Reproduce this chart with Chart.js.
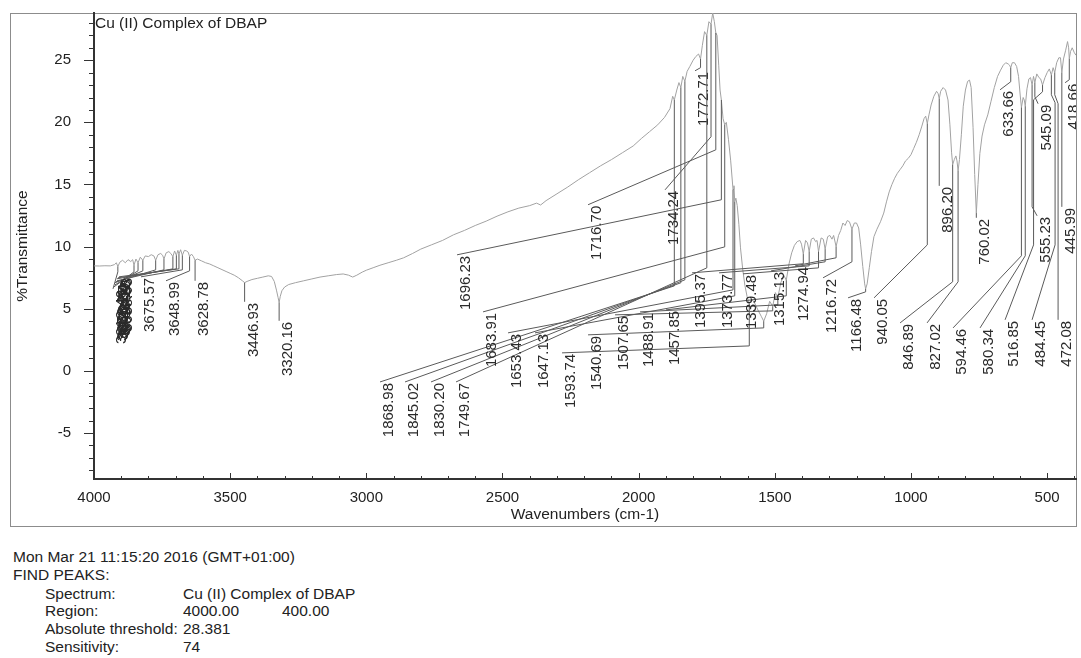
<!DOCTYPE html>
<html>
<head>
<meta charset="utf-8">
<title>Cu (II) Complex of DBAP</title>
<script src="https://cdn.jsdelivr.net/npm/chart.js@4.4.1/dist/chart.umd.min.js"></script>
<style>
  html, body { margin: 0; padding: 0; background: #fff; }
  #wrap { position: relative; width: 1081px; height: 658px; overflow: hidden;
          font-family: "Liberation Sans", Arial, sans-serif; color: #222; }
  #c { position: absolute; left: 0; top: 0; }
  .t { position: absolute; font-size: 15.5px; line-height: 18px; white-space: pre; }
</style>
</head>
<body>
<div id="wrap">
  <canvas id="c" width="1081" height="535"></canvas>
  <div class="t" style="left:13px;top:548px">Mon Mar 21 11:15:20 2016 (GMT+01:00)</div>
  <div class="t" style="left:13px;top:566px">FIND PEAKS:</div>
  <div class="t" style="left:45px;top:585px">Spectrum:</div>
  <div class="t" style="left:183px;top:585px">Cu (II) Complex of DBAP</div>
  <div class="t" style="left:45px;top:602px">Region:</div>
  <div class="t" style="left:183px;top:602px">4000.00</div>
  <div class="t" style="left:282px;top:602px">400.00</div>
  <div class="t" style="left:45px;top:620px">Absolute threshold:</div>
  <div class="t" style="left:183px;top:620px">28.381</div>
  <div class="t" style="left:45px;top:638px">Sensitivity:</div>
  <div class="t" style="left:183px;top:638px">74</div>
</div>
<script>
// ---- Spectrum: wavenumber (cm-1) and %Transmittance ----
const wavenumbers = [
  4000, 3980, 3960, 3940, 3925, 3918, 3912.40, 3905, 3895, 3885, 3875, 3865, 3858, 3853.11,
  3846, 3838.27, 3830, 3820.64, 3812, 3800, 3790, 3780, 3773.50, 3765, 3755, 3748, 3743.12,
  3735, 3725, 3718, 3710.29, 3704, 3697.55, 3692, 3688.03, 3682, 3675.57, 3668, 3660, 3654,
  3648.99, 3642, 3635, 3628.78, 3620, 3605, 3590, 3575, 3560, 3545, 3530, 3515, 3500, 3485,
  3470, 3455, 3446.93, 3438, 3420, 3400, 3380, 3360, 3348, 3338, 3330, 3324, 3320.16, 3316,
  3310, 3300, 3285, 3260, 3230, 3200, 3170, 3140, 3110, 3085, 3065, 3050, 3035, 3015, 3000,
  2975, 2950, 2920, 2890, 2863, 2830, 2800, 2760, 2720, 2680, 2640, 2600, 2560, 2520, 2480,
  2440, 2400, 2375, 2360, 2340, 2300, 2260, 2220, 2180, 2140, 2100, 2060, 2020, 1990, 1960,
  1930, 1905, 1885, 1875, 1868.98, 1860, 1852, 1845.02, 1838, 1830.20, 1822, 1812, 1800,
  1790, 1780, 1772.71, 1766, 1758, 1749.67, 1742, 1734.24, 1728, 1722, 1716.70, 1712, 1706,
  1701, 1696.23, 1690, 1683.91, 1678, 1670, 1662, 1653.43, 1650, 1647.13, 1643, 1638, 1632,
  1626, 1618, 1610, 1602, 1593.74, 1586, 1575, 1562, 1550, 1540.69, 1530, 1519, 1507.65,
  1498, 1488.91, 1478, 1467, 1457.85, 1448, 1438, 1428, 1418, 1408, 1402, 1395.37, 1387,
  1380, 1373.77, 1366, 1358, 1350, 1345, 1339.48, 1330, 1322, 1315.13, 1306, 1298, 1290,
  1284, 1274.94, 1266, 1258, 1250, 1242, 1234, 1226, 1216.72, 1208, 1200, 1192, 1185, 1177,
  1170, 1166.48, 1161, 1153, 1145, 1136, 1125, 1112, 1100, 1090, 1080, 1070, 1060, 1050,
  1040, 1030, 1020, 1010, 1000, 990, 980, 970, 960, 952, 946, 940.05, 934, 926, 916, 906,
  900, 896.20, 891, 882, 873, 864, 857, 851, 846.89, 841, 835, 831, 827.02, 822, 815, 808,
  800, 792, 785, 779, 772, 766, 760.02, 754, 747, 739, 730, 718, 706, 694, 682, 671, 661,
  652, 643, 638, 633.66, 628, 620, 612, 605, 599, 594.46, 588, 584, 580.34, 574, 567, 561,
  555.23, 550, 545.09, 538, 530, 524, 516.85, 508, 500, 492, 484.45, 478, 472.08, 465, 457,
  451, 445.99, 440, 432, 425, 421, 418.66, 414, 408, 400, 394
];
const transmittance = [
  8.45, 8.44, 8.46, 8.45, 8.55, 8.7, 8.4, 8.75, 8.9, 8.7, 8.95, 8.8, 8.95, 8.5,
  9.0, 8.7, 9.15, 8.9, 9.25, 9.2, 9.35, 9.25, 8.9, 9.35, 9.45, 9.3, 9.0,
  9.5, 9.6, 9.45, 9.2, 9.65, 9.3, 9.7, 9.4, 9.75, 9.3, 9.7, 9.65, 9.55,
  9.2, 9.4, 9.2, 8.9, 9.0, 8.85, 8.7, 8.6, 8.45, 8.3, 8.15, 8.0, 7.85, 7.7,
  7.5, 7.25, 7.1, 7.2, 7.35, 7.45, 7.55, 7.65, 7.6, 7.2, 6.5, 5.9, 5.5, 6.0,
  6.45, 6.75, 6.95, 7.1, 7.25, 7.4, 7.55, 7.65, 7.75, 7.8, 7.7, 7.55, 7.7, 7.95, 8.1,
  8.3, 8.5, 8.7, 8.9, 9.1, 9.45, 9.8, 10.15, 10.5, 10.95, 11.3, 11.7, 12.05, 12.45, 12.8,
  13.1, 13.3, 13.5, 13.35, 13.7, 14.25, 14.8, 15.4, 15.95, 16.5, 17.0, 17.55, 18.1, 18.7, 19.25,
  19.8, 20.4, 21.1, 22.1, 21.8, 22.6, 23.2, 22.8, 23.7, 23.3, 24.1, 24.5, 25.0,
  25.3, 25.5, 25.1, 26.2, 27.3, 27.0, 28.1, 27.9, 28.8, 28.1, 27.2, 27.0, 24.6,
  22.6, 21.8, 20.3, 19.8, 20.0, 18.6, 16.9, 14.6, 14.9, 13.6, 13.9, 13.3, 11.8,
  9.9, 8.2, 6.9, 6.0, 5.4, 5.8, 5.5, 4.9, 4.4, 4.0, 4.6, 5.6, 5.2,
  6.3, 5.9, 7.1, 7.7, 7.3, 8.6, 9.5, 10.1, 10.4, 10.5, 10.2, 9.4, 10.5,
  10.3, 9.6, 10.6, 10.7, 10.4, 10.5, 9.6, 10.7, 10.6, 9.8, 10.8, 10.9, 10.6,
  10.9, 10.0, 10.9, 11.3, 11.9, 11.7, 12.1, 12.0, 11.4, 11.9, 11.9, 11.5, 10.2, 8.4,
  7.0, 6.6, 7.0, 8.3, 9.6, 10.8, 11.4, 12.0, 12.7, 13.6, 14.4, 15.0, 15.5, 15.9,
  16.2, 16.5, 16.9, 17.1, 17.4, 17.9, 18.4, 19.0, 19.7, 20.3, 20.5, 19.9, 20.6, 21.4, 22.1, 22.5,
  22.3, 21.9, 22.5, 22.8, 22.6, 21.8, 19.8, 17.6, 16.6, 17.0, 17.3, 16.9, 16.1, 17.0, 19.0, 21.3,
  22.6, 23.3, 23.4, 22.8, 19.6, 15.8, 12.7, 15.0, 17.5, 18.9, 19.8, 20.6, 21.7, 22.8, 23.7, 24.2, 24.6,
  24.8, 24.7, 24.6, 24.4, 24.8, 24.8, 24.5, 23.7, 22.2, 21.2, 22.0, 21.8, 21.3, 22.7, 23.5, 23.6,
  23.0, 23.7, 23.2, 23.9, 23.6, 23.5, 23.0, 23.6, 24.0, 24.3, 23.8, 24.4, 24.0, 24.8, 25.2,
  25.2, 24.0, 25.1, 25.8, 26.5, 26.0, 25.1, 25.7, 26.0, 25.6, 25.4
];

// ---- Axis ticks ----
const xTickValues = [4000, 3500, 3000, 2500, 2000, 1500, 1000, 500];
const yTickValues = [-5, 0, 5, 10, 15, 20, 25];

// ---- Peak-pick labels (values found by FIND PEAKS) ----
const peakLabels = [
  '3912.40', '3853.11', '3838.27', '3820.64', '3773.50', '3743.12', '3710.29', '3697.55', '3688.03',
  '3675.57', '3648.99', '3628.78', '3446.93', '3320.16',
  '1868.98', '1845.02', '1830.20', '1772.71', '1749.67', '1734.24', '1716.70', '1696.23', '1683.91',
  '1653.43', '1647.13', '1593.74', '1540.69', '1507.65', '1488.91', '1457.85', '1395.37', '1373.77',
  '1339.48', '1315.13', '1274.94', '1216.72', '1166.48', '940.05', '896.20', '846.89', '827.02',
  '760.02', '633.66', '594.46', '580.34', '555.23', '545.09', '516.85', '484.45', '472.08',
  '445.99', '418.66'
];

// Leader routing in axis units: bend points after the peak, then the label anchor
const leaderBends = [
  [[3912.40, 7.97]], [[3853.11, 7.97]], [[3838.27, 8.05]], [[3820.64, 8.05]], [[3773.50, 8.13]],
  [[3743.12, 8.13]], [[3710.29, 8.21]], [[3697.55, 8.21]], [[3688.03, 8.21]],
  [[3675.57, 8.13]], [[3648.99, 8.05]], [], [], [],
  [[1868.98, 6.84]], [[1845.02, 7.09]], [[1830.20, 7.33]], [[1772.71, 24.40]], [[1749.67, 8.29]],
  [[1734.24, 18.84]], [[1716.70, 17.79]], [[1696.23, 13.77]], [[1683.91, 9.98]],
  [[1653.43, 6.52]], [[1647.13, 6.04]], [[1593.74, 2.01]], [[1540.69, 3.46]], [[1507.65, 4.83]],
  [[1488.91, 5.31]], [[1457.85, 6.04]], [[1395.37, 8.62]], [[1373.77, 8.45]],
  [[1339.48, 8.29]], [[1315.13, 8.78]], [[1274.94, 9.10]], [[1216.72, 8.78]], [[1166.48, 6.36]],
  [[940.05, 10.14]], [], [[846.89, 7.17]], [[827.02, 7.17]],
  [], [[633.66, 23.27]], [[594.46, 9.26]], [[580.34, 9.26]], [[555.23, 13.20]], [[545.09, 22.06]],
  [[516.85, 22.46], [549.8, 21.82], [549.8, 10.14]],
  [[484.45, 22.22], [470.8, 21.58], [470.8, 10.14]],
  [[472.08, 22.22], [459.8, 21.50]],
  [], [[418.66, 23.43]]
];
const labelAnchors = [
  [3930.2, 6.60], [3926.6, 6.76], [3922.9, 6.92], [3922.9, 7.09], [3919.2, 7.17],
  [3915.5, 7.25], [3915.5, 7.41], [3911.9, 7.49], [3908.2, 7.57],
  [3827.4, 7.57], [3735.6, 7.25], [3628.78, 7.25], [3446.93, 5.56], [3320.16, 4.03],
  [2949.7, -0.89], [2857.9, -0.89], [2762.4, -0.89], [1792.9, 24.15], [2670.6, -0.89],
  [1903.1, 14.57], [2185.8, 13.37], [2666.9, 9.34], [2571.4, 4.75],
  [2479.6, 3.06], [2380.5, 3.06], [2281.3, 1.45], [2185.8, 2.90], [2086.7, 4.51],
  [1994.9, 4.75], [1899.4, 4.91], [1803.9, 7.89], [1704.7, 7.89],
  [1616.6, 7.81], [1513.8, 8.05], [1425.6, 8.45], [1322.8, 7.49], [1231.0, 5.88],
  [1135.5, 5.88], [896.20, 14.89], [1040.0, 3.86], [940.9, 3.86],
  [760.02, 12.32], [672.8, 22.62], [845.4, 3.46], [746.3, 3.46], [536.9, 12.48], [533.2, 21.50],
  [654.4, 4.11], [555.3, 4.11], [459.8, 4.11],
  [445.99, 13.20], [434.1, 23.19]
];

const FONT = '"Liberation Sans", Arial, sans-serif';
Chart.defaults.font.family = FONT;

const spectrum = wavenumbers.map((w, i) => ({ x: w, y: transmittance[i] }));

const decor = {
  id: 'decor',
  beforeDraw(chart) {
    const ctx = chart.ctx;
    ctx.save();
    ctx.strokeStyle = '#8c8c8c';
    ctx.lineWidth = 1;
    ctx.strokeRect(10.5, 13.5, 1066, 513);
    ctx.restore();
  },
  afterDraw(chart) {
    const ctx = chart.ctx;
    const xs = chart.scales.x, ys = chart.scales.y;
    const { left, right, top, bottom } = chart.chartArea;

    // tick marks: x inside the frame, y outside
    ctx.save();
    ctx.strokeStyle = '#333';
    ctx.lineWidth = 1;
    ctx.beginPath();
    for (let v = 400; v <= 4000; v += 100) {
      const px = Math.round(xs.getPixelForValue(v)) + 0.5;
      const len = v % 500 === 0 ? 6 : 3;
      ctx.moveTo(px, bottom); ctx.lineTo(px, bottom - len);
    }
    for (let v = -8; v <= 28; v++) {
      const py = Math.round(ys.getPixelForValue(v)) + 0.5;
      const len = v % 5 === 0 ? 10 : 5;
      ctx.moveTo(left, py); ctx.lineTo(left - len, py);
    }
    ctx.stroke();

    // spectrum name in the upper-left corner of the plot
    ctx.fillStyle = '#222';
    ctx.font = '15.5px ' + FONT;
    ctx.textAlign = 'left';
    ctx.textBaseline = 'middle';
    ctx.fillText('Cu (II) Complex of DBAP', left + 1, top + 11);
    ctx.restore();

    // peak markers with leaders and rotated labels
    ctx.save();
    ctx.beginPath();
    ctx.rect(left, top, right - left, bottom - top);
    ctx.clip();
    ctx.strokeStyle = '#5a5a5a';
    ctx.lineWidth = 1;
    ctx.fillStyle = '#2a2a2a';
    ctx.font = '15px ' + FONT;
    peakLabels.forEach((lab, i) => {
      const wn = parseFloat(lab);
      const t = transmittance[wavenumbers.indexOf(wn)];
      const pts = [[wn, t], ...leaderBends[i], labelAnchors[i]];
      ctx.beginPath();
      pts.forEach(([w, v], k) => {
        const X = xs.getPixelForValue(w), Y = ys.getPixelForValue(v);
        if (k) ctx.lineTo(X, Y); else ctx.moveTo(X, Y);
      });
      ctx.stroke();
      const [aw, at] = labelAnchors[i];
      ctx.save();
      ctx.translate(xs.getPixelForValue(aw) + 9, ys.getPixelForValue(at) + 1);
      ctx.rotate(-Math.PI / 2);
      ctx.textAlign = 'right';
      ctx.textBaseline = 'middle';
      ctx.fillText(lab, 0, 0);
      ctx.restore();
    });
    ctx.restore();
  }
};

new Chart(document.getElementById('c'), {
  type: 'line',
  data: {
    datasets: [{
      data: spectrum,
      borderColor: '#a2a2a2',
      borderWidth: 1,
      pointRadius: 0,
      tension: 0
    }]
  },
  options: {
    responsive: false,
    animation: false,
    events: [],
    layout: { padding: { left: 10, top: 13, right: 5, bottom: 8 } },
    plugins: { legend: { display: false }, tooltip: { enabled: false } },
    scales: {
      x: {
        type: 'linear',
        reverse: true,
        min: 394,
        max: 4000,
        afterBuildTicks: s => { s.ticks = xTickValues.map(v => ({ value: v })); },
        afterFit: s => { s.height = 48; s.paddingLeft = 0; s.paddingRight = 0; },
        grid: { display: false },
        border: { display: true, color: '#333', width: 2 },
        ticks: { font: { size: 15 }, color: '#222', padding: 2, maxRotation: 0, autoSkip: false,
                 callback: v => String(v) },
        title: { display: true, text: 'Wavenumbers (cm-1)', font: { size: 15.5 }, color: '#222',
                 padding: { top: 0, bottom: 3 } }
      },
      y: {
        min: -8.7,
        max: 28.8,
        afterBuildTicks: s => { s.ticks = yTickValues.map(v => ({ value: v })); },
        afterFit: s => { s.width = 84; s.paddingTop = 0; s.paddingBottom = 0; },
        grid: { display: false },
        border: { display: true, color: '#333', width: 2 },
        ticks: { font: { size: 15 }, color: '#222', padding: 15, callback: v => String(v) },
        title: { display: true, text: '%Transmittance', font: { size: 15.5 }, color: '#222',
                 padding: { top: 3, bottom: 0 } }
      }
    }
  },
  plugins: [decor]
});
</script>
</body>
</html>
